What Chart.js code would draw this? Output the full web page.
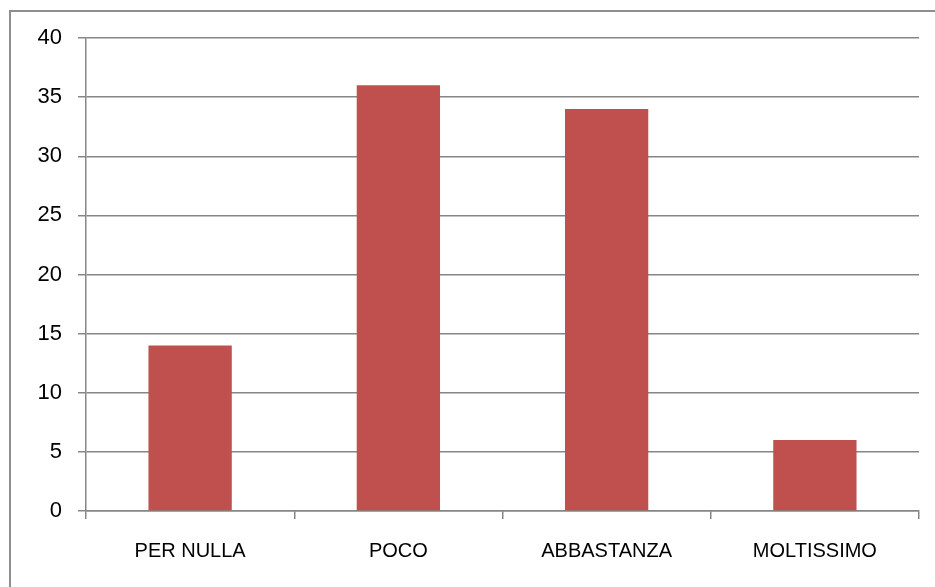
<!DOCTYPE html>
<html>
<head>
<meta charset="utf-8">
<script src="https://cdn.jsdelivr.net/npm/chart.js@4.4.1/dist/chart.umd.min.js"></script>
<style>
  html, body { margin: 0; padding: 0; background: #fff; overflow: hidden; }
  #wrap { position: relative; width: 935px; height: 587px; }
  #frame { position: absolute; left: 9px; top: 10px; width: 1000px; height: 1000px;
           border: 2px solid #8e8e8e; box-sizing: border-box; }
  canvas { position: absolute; left: 0; top: 0; }
</style>
</head>
<body>
<div id="wrap">
  <div id="frame"></div>
  <canvas id="c" width="935" height="587"></canvas>
</div>
<script>
const categories = ["PER NULLA", "POCO", "ABBASTANZA", "MOLTISSIMO"];
const values = [14, 36, 34, 6];
const yTicks = [0, 5, 10, 15, 20, 25, 30, 35, 40];

const ctx = document.getElementById('c').getContext('2d');
new Chart(ctx, {
  type: 'bar',
  data: {
    labels: categories,
    datasets: [{
      data: values,
      backgroundColor: '#C0504D',
      borderWidth: 0,
      categoryPercentage: 0.4,
      barPercentage: 1.0
    }]
  },
  options: {
    responsive: false,
    animation: false,
    devicePixelRatio: 1,
    layout: { padding: { left: 0, top: 38, right: 16, bottom: 0 } },
    plugins: { legend: { display: false }, title: { display: false }, tooltip: { enabled: false } },
    scales: {
      x: {
        grid: { drawOnChartArea: false, drawTicks: true, tickLength: 8, color: '#868686', lineWidth: 1.5 },
        border: { display: true, color: '#868686', width: 1.5 },
        ticks: { color: '#000', font: { family: '"Liberation Sans", Arial, sans-serif', size: 20 }, padding: 20, maxRotation: 0 },
        afterFit: (s) => { s.height = 76; }
      },
      y: {
        min: 0, max: 40,
        afterBuildTicks: (s) => { s.ticks = yTicks.map(v => ({ value: v })); },
        grid: { color: '#868686', lineWidth: 1.5, drawTicks: true, tickLength: 8, tickColor: '#868686' },
        border: { display: true, color: '#868686', width: 1.5 },
        ticks: { color: '#000', font: { family: '"Liberation Sans", Arial, sans-serif', size: 22 }, padding: 16 },
        afterFit: (s) => { s.width = 86; }
      }
    }
  }
});
</script>
</body>
</html>
